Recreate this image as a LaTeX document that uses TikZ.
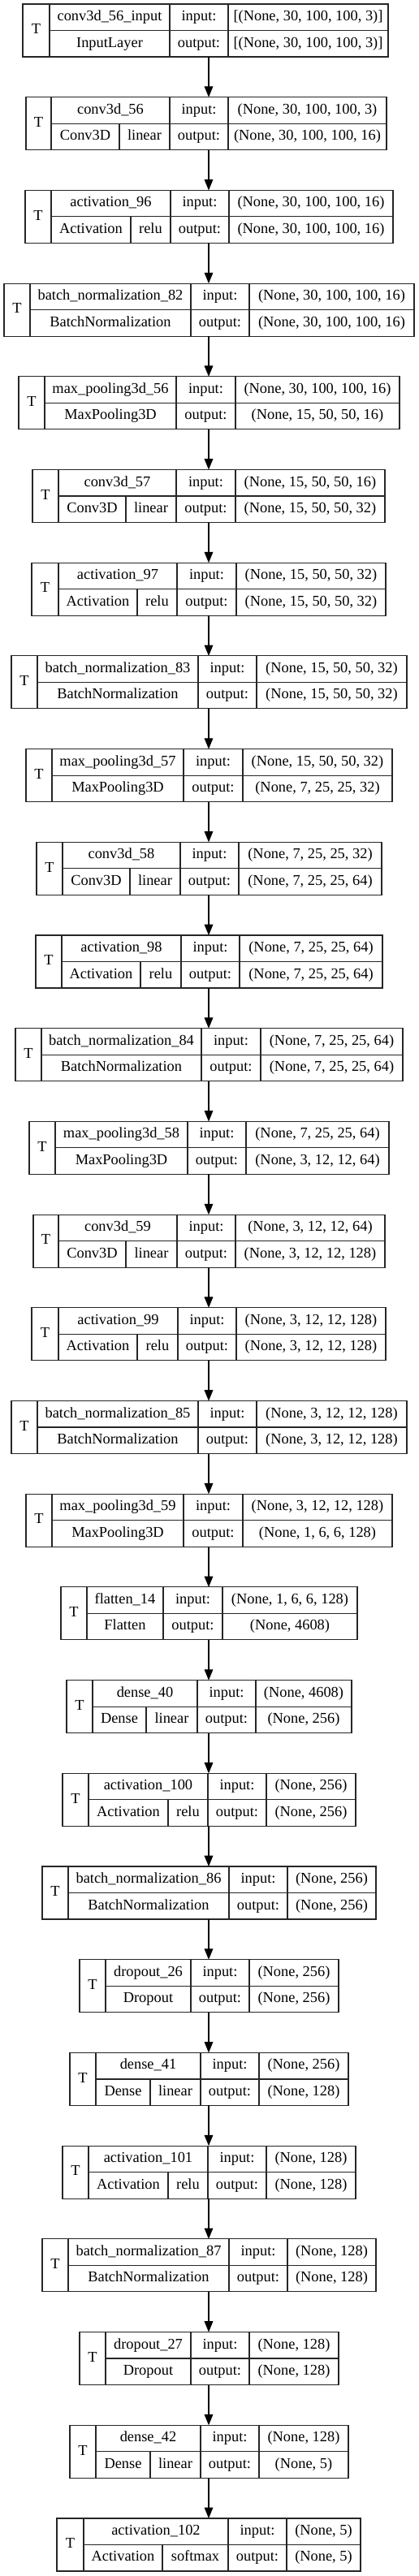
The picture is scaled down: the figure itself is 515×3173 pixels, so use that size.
\documentclass[tikz,border=0pt]{standalone}
\usepackage{fontspec}
\setmainfont{Liberation Serif}
\usepackage{tikz}
\usetikzlibrary{positioning, arrows.meta}

\begin{document}
\begin{tikzpicture}[x=0.75pt, y=0.75pt,
  layer/.style={draw=black!85, line width=0.85pt, inner sep=0pt, outer sep=0pt, anchor=north west, minimum height=48.75pt},
  rule/.style={draw=black!85, line width=0.85pt},
  cell/.style={inner sep=0pt, text height=9.4pt, text depth=3pt, font=\fontsize{13.8}{16}\selectfont},
  flow/.style={-{Triangle[length=10pt, width=8pt]}, line width=0.85pt}]

\useasboundingbox (0,0) rectangle (515,-3173);
\coordinate (spine) at (257,0);

% --- Layer tables: index / left / T col / split / name col / label col / right ---
\foreach \idx/\xl/\xt/\xs/\xn/\xp/\xr/\lname/\lclass/\lact/\lin/\lout in {
  1/28/61/0/209/281/478/conv3d\_56\_input/InputLayer/-/{[(None, 30, 100, 100, 3)]}/{[(None, 30, 100, 100, 3)]},
  2/32/63/147/209/281/476/conv3d\_56/Conv3D/linear/{(None, 30, 100, 100, 3)}/{(None, 30, 100, 100, 16)},
  3/31/63/161/210/282/484/activation\_96/Activation/relu/{(None, 30, 100, 100, 16)}/{(None, 30, 100, 100, 16)},
  4/5/37/0/235/307/510/batch\_normalization\_82/BatchNormalization/-/{(None, 30, 100, 100, 16)}/{(None, 30, 100, 100, 16)},
  5/23/55/0/217/290/492/max\_pooling3d\_56/MaxPooling3D/-/{(None, 30, 100, 100, 16)}/{(None, 15, 50, 50, 16)},
  6/40/72/155/217/290/474/conv3d\_57/Conv3D/linear/{(None, 15, 50, 50, 16)}/{(None, 15, 50, 50, 32)},
  7/39/72/169/218/291/475/activation\_97/Activation/relu/{(None, 15, 50, 50, 32)}/{(None, 15, 50, 50, 32)},
  8/14/46/0/244/316/501/batch\_normalization\_83/BatchNormalization/-/{(None, 15, 50, 50, 32)}/{(None, 15, 50, 50, 32)},
  9/32/64/0/226/299/483/max\_pooling3d\_57/MaxPooling3D/-/{(None, 15, 50, 50, 32)}/{(None, 7, 25, 25, 32)},
  10/45/77/160/222/294/470/conv3d\_58/Conv3D/linear/{(None, 7, 25, 25, 32)}/{(None, 7, 25, 25, 64)},
  11/44/76/173/223/295/471/activation\_98/Activation/relu/{(None, 7, 25, 25, 64)}/{(None, 7, 25, 25, 64)},
  12/19/51/0/248/321/496/batch\_normalization\_84/BatchNormalization/-/{(None, 7, 25, 25, 64)}/{(None, 7, 25, 25, 64)},
  13/36/68/0/231/303/479/max\_pooling3d\_58/MaxPooling3D/-/{(None, 7, 25, 25, 64)}/{(None, 3, 12, 12, 64)},
  14/41/72/155/218/290/474/conv3d\_59/Conv3D/linear/{(None, 3, 12, 12, 64)}/{(None, 3, 12, 12, 128)},
  15/39/72/169/219/291/475/activation\_99/Activation/relu/{(None, 3, 12, 12, 128)}/{(None, 3, 12, 12, 128)},
  16/14/46/0/244/316/501/batch\_normalization\_85/BatchNormalization/-/{(None, 3, 12, 12, 128)}/{(None, 3, 12, 12, 128)},
  17/32/64/0/226/299/483/max\_pooling3d\_59/MaxPooling3D/-/{(None, 3, 12, 12, 128)}/{(None, 1, 6, 6, 128)},
  18/75/107/0/201/274/440/flatten\_14/Flatten/-/{(None, 1, 6, 6, 128)}/{(None, 4608)},
  19/82/114/180/243/315/433/dense\_40/Dense/linear/{(None, 4608)}/{(None, 256)},
  20/77/109/207/256/328/438/activation\_100/Activation/relu/{(None, 256)}/{(None, 256)},
  21/52/84/0/282/354/463/batch\_normalization\_86/BatchNormalization/-/{(None, 256)}/{(None, 256)},
  22/98/130/0/235/307/417/dropout\_26/Dropout/-/{(None, 256)}/{(None, 256)},
  23/86/118/185/247/319/429/dense\_41/Dense/linear/{(None, 256)}/{(None, 128)},
  24/77/109/207/256/328/438/activation\_101/Activation/relu/{(None, 128)}/{(None, 128)},
  25/52/84/0/282/354/463/batch\_normalization\_87/BatchNormalization/-/{(None, 128)}/{(None, 128)},
  26/98/130/0/235/307/417/dropout\_27/Dropout/-/{(None, 128)}/{(None, 128)},
  27/86/118/185/247/319/429/dense\_42/Dense/linear/{(None, 128)}/{(None, 5)},
  28/70/103/200/281/353/444/activation\_102/Activation/softmax/{(None, 5)}/{(None, 5)}%
}{
  \pgfmathsetmacro\yt{5+(\idx-1)*114.7}
  \pgfmathsetmacro\ya{\yt+16.25}
  \pgfmathsetmacro\ym{\yt+32.5}
  \pgfmathsetmacro\yc{\yt+48.75}
  \pgfmathsetmacro\yb{\yt+65}
  \pgfmathsetmacro\bw{(\xr-\xl)*0.75}
  % Outer frame
  \node[layer, minimum width=\bw pt] (L\idx) at (\xl,-\yt) {};
  % Cell rules
  \draw[rule] (\xt,-\yt) -- (\xt,-\yb);
  \draw[rule] (\xt,-\ym) -- (\xr,-\ym);
  \draw[rule] (\xn,-\yt) -- (\xn,-\yb);
  \draw[rule] (\xp,-\yt) -- (\xp,-\yb);
  % Texts
  \node[cell] (L\idx-t) at ({(\xl+\xt)/2},-\ym) {T};
  \node[cell] (L\idx-name) at ({(\xt+\xn)/2},-\ya) {\lname};
  \ifnum\xs>0
    \draw[rule] (\xs,-\ym) -- (\xs,-\yb);
    \node[cell] (L\idx-class) at ({(\xt+\xs)/2},-\yc) {\lclass};
    \node[cell] (L\idx-act) at ({(\xs+\xn)/2},-\yc) {\lact};
  \else
    \node[cell] (L\idx-class) at ({(\xt+\xn)/2},-\yc) {\lclass};
  \fi
  \node[cell] (L\idx-inlbl) at ({(\xn+\xp)/2},-\ya) {input:};
  \node[cell] (L\idx-outlbl) at ({(\xn+\xp)/2},-\yc) {output:};
  \node[cell] (L\idx-in) at ({(\xp+\xr)/2},-\ya) {\lin};
  \node[cell] (L\idx-out) at ({(\xp+\xr)/2},-\yc) {\lout};
}

% --- Connectors ---
\foreach \a [evaluate=\a as \b using int(\a+1)] in {1,...,27}
  \draw[flow] (L\a.south -| spine) -- (L\b.north -| spine);

\end{tikzpicture}
\end{document}
